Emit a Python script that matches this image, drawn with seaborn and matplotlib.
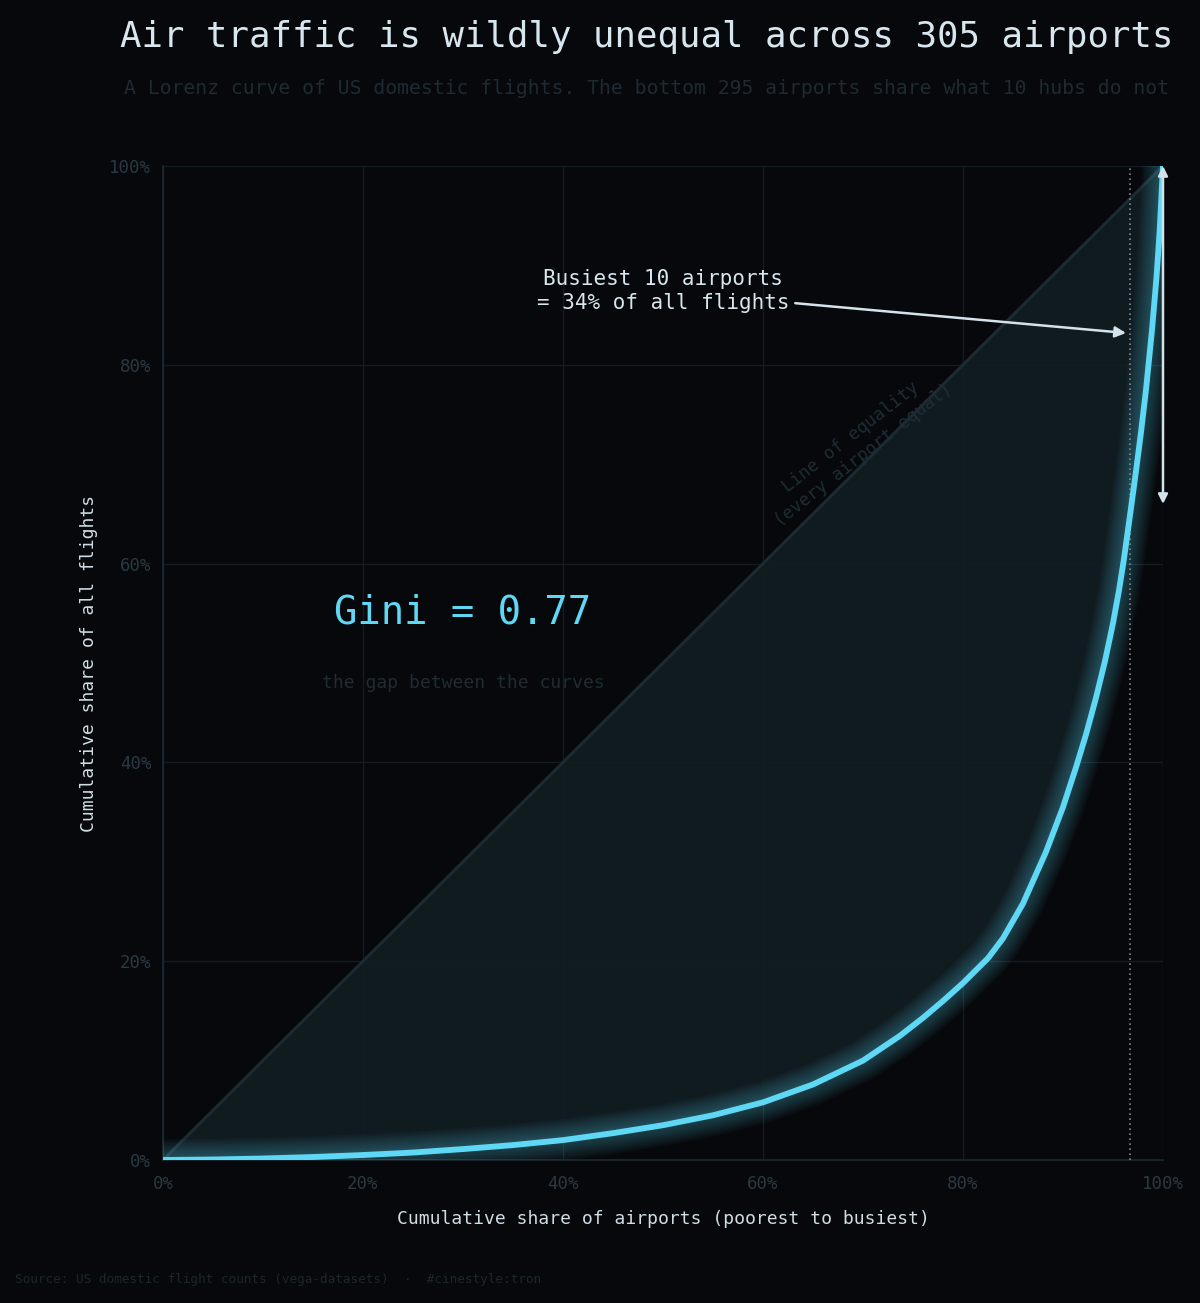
import matplotlib
matplotlib.use("Agg")
import matplotlib.pyplot as plt
import seaborn as sns
import numpy as np
import pandas as pd

# ---- data ----
airport_share = [0, 5, 10, 15, 20, 25, 30, 35, 40, 45, 50, 55, 60, 65, 70, 73.7, 76, 78,
                 80, 82.5, 84, 86, 88.3, 90, 91.3, 92.3, 93.3, 94.2, 95, 95.6, 96.1, 96.72,
                 97.3, 97.8, 98.3, 98.9, 99.35, 99.67, 100]
flight_share = [0, 0.05, 0.15, 0.3, 0.5, 0.75, 1.1, 1.5, 2.0, 2.7, 3.5, 4.5, 5.8, 7.6, 10.0, 12.5, 14.3, 16.0,
                17.8, 20.3, 22.3, 25.8, 31.0, 35.5, 39.5, 42.8, 46.5, 50.2, 54.0, 57.3, 60.5, 65.0,
                69.3, 73.2, 77.5, 83.5, 88.8, 93.5, 100]
equality = [0, 100]
top10_cut = 96.72      # 295 of 305 airports
top10_share = 34
gini = 0.77
ticks = [0, 20, 40, 60, 80, 100]
tick_labels = ["0%", "20%", "40%", "60%", "80%", "100%"]

df = pd.DataFrame({"x": airport_share, "y": flight_share})
eq = pd.DataFrame({"x": equality, "y": equality})

BG = "#06080b"
CYAN = "#5fd8f5"
FONT = "DejaVu Sans Mono"

sns.set_theme(style="dark")
plt.rcParams["font.family"] = [FONT, "DejaVu Sans"]

fig = plt.figure(figsize=(12, 13.03), dpi=100, facecolor=BG)
ax = fig.add_axes([163/1200, 1 - 1160/1303, 1000/1200, 994/1303])
ax.set_facecolor(BG)

# fill between equality line and curve
ax.fill_between(df["x"], df["x"], df["y"], color="#101b20", alpha=1.0, zorder=1, lw=0)

# grid
for t in ticks:
    ax.axvline(t, color="#131c21", lw=1, zorder=1.5)
    ax.axhline(t, color="#131c21", lw=1, zorder=1.5)

# equality line
sns.lineplot(data=eq, x="x", y="y", ax=ax, color="#1c2b32", lw=2.2, zorder=2)

# glow for the curve
for lw in np.arange(30, 5, -3):
    sns.lineplot(data=df, x="x", y="y", ax=ax, color=CYAN, lw=lw, alpha=0.035,
                 zorder=3, solid_capstyle="butt", solid_joinstyle="round")
sns.lineplot(data=df, x="x", y="y", ax=ax, color=CYAN, lw=4.2, zorder=4,
             solid_joinstyle="round")

# dotted cut line
ax.plot([top10_cut, top10_cut], [0, 100], color="#7d8b93", lw=1.2, ls=(0, (1, 2)), zorder=3.5)

# double arrow at right edge
ax.annotate("", xy=(100, 100), xytext=(100, 100 - top10_share),
            arrowprops=dict(arrowstyle="<|-|>", color="#d4e2ea", lw=1.8,
                            mutation_scale=14, shrinkA=0, shrinkB=0), zorder=6,
            annotation_clip=False)

# annotation
ax.annotate(f"Busiest 10 airports\n= {top10_share}% of all flights",
            xy=(96.3, 83.2), xytext=(50, 87.4), ha="center", va="center",
            color="#d8e6ee", fontsize=15, linespacing=1.25,
            arrowprops=dict(arrowstyle="-|>", color="#d4e2ea", lw=1.8,
                            mutation_scale=16, shrinkA=2, shrinkB=0), zorder=6)

ax.text(30, 55.1, f"Gini = {gini:.2f}", color=CYAN, fontsize=28, ha="center", va="center", zorder=6)
ax.text(30, 48, "the gap between the curves", color="#1f2c33", fontsize=13,
        ha="center", va="center", zorder=6)

ax.text(69.4, 71.8, "Line of equality\n(every airport equal)", color="#1f2d35", fontsize=12.5,
        ha="center", va="center", rotation=38, rotation_mode="anchor",
        linespacing=1.3, zorder=2.5)

ax.set_xlim(0, 100)
ax.set_ylim(0, 100)
ax.set_xticks(ticks)
ax.set_yticks(ticks)
ax.set_xticklabels(tick_labels)
ax.set_yticklabels(tick_labels)
ax.tick_params(colors="#2a3942", labelsize=12.5, length=5, width=1, labelcolor="#2a3942")
ax.tick_params(axis="x", pad=6)
for s in ["top", "right"]:
    ax.spines[s].set_visible(False)
for s in ["left", "bottom"]:
    ax.spines[s].set_visible(True)
    ax.spines[s].set_color("#1e2a31")
    ax.spines[s].set_linewidth(1.2)
ax.grid(False)
ax.set_xlabel("Cumulative share of airports (poorest to busiest)", color="#d0dde5", fontsize=13, labelpad=12)
ax.set_ylabel("Cumulative share of all flights", color="#d0dde5", fontsize=13, labelpad=8)

fig.text(647/1200, 1 - 37/1303, "Air traffic is wildly unequal across 305 airports",
         color="#d8e6ee", fontsize=25.7, ha="center", va="center")
fig.text(647/1200, 1 - 88/1303,
         "A Lorenz curve of US domestic flights. The bottom 295 airports share what 10 hubs do not",
         color="#1f2a31", fontsize=14.2, ha="center", va="center")
fig.text(15/1200, 1 - 1280/1303,
         "Source: US domestic flight counts (vega-datasets)  \u00b7  #cinestyle:tron",
         color="#1c262c", fontsize=9.2, ha="left", va="center")

fig.savefig("out.png", dpi=100, facecolor=BG)
